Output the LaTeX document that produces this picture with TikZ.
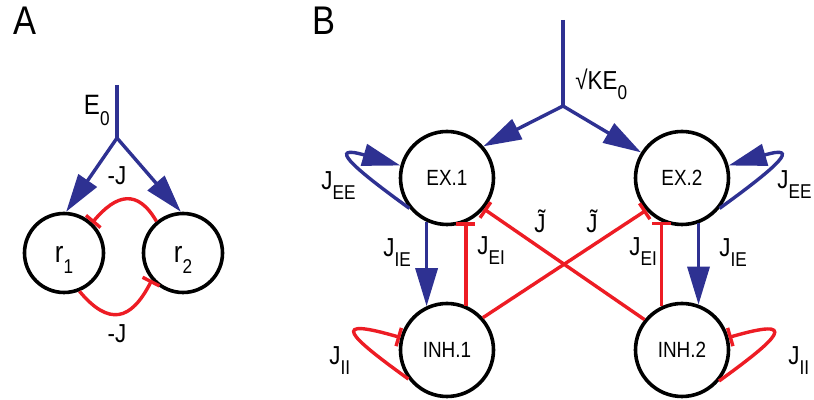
\documentclass[tikz,border=0pt]{standalone}
\usepackage{fontspec}
\setmainfont{Liberation Sans}[FakeStretch=0.86]
\usepackage{tikz}
\usetikzlibrary{arrows.meta}

\definecolor{exblue}{RGB}{46,49,146}
\definecolor{inhred}{RGB}{237,28,36}
% Etiqueta con subindice bajado
\newcommand{\jsub}[2]{#1\raisebox{-0.36em}{\fontsize{10}{11}\selectfont #2}}

\begin{document}
\begin{tikzpicture}[
        x=0.5pt, y=0.5pt,
        font=\fontsize{13}{14}\selectfont,
        unit/.style={draw, circle, line width=1.8pt, minimum size=39.5pt, inner sep=0pt,
            text height=9.5pt, text depth=0pt, font=\fontsize{15}{16}\selectfont},
        pop/.style={draw, circle, line width=1.8pt, minimum size=46.5pt, inner sep=0pt,
            font=\fontsize{11}{12}\selectfont},
        feed/.style={exblue, line width=1.7pt},
        exc/.style={exblue, line width=1.7pt, -{Triangle[length=19pt, width=11pt]}},
        inh/.style={inhred, line width=1.7pt, -{Bar[width=9.5pt, line width=1.7pt]}},
        lbl/.style={inner sep=1pt},
        panel/.style={font=\fontsize{20}{21}\selectfont, anchor=base}
    ]
        \useasboundingbox (0,0) rectangle (814,400);

        % --- Panel A: dos unidades con inhibicion mutua ---
        \node[panel] (labA) at (25,365) {A};
        \node[unit] (r1) at (64,147) {\jsub{r}{1}};
        \node[unit] (r2) at (183,147) {\jsub{r}{2}};

        % Entrada comun
        \coordinate (Atop) at (117,315);
        \coordinate (A0) at (117,262);
        \draw[feed] (Atop) -- (A0);
        \node[lbl, anchor=base east, font=\fontsize{14}{15}\selectfont] (lblE) at (112,285) {\jsub{E}{0}};
        \draw[exc] (A0) -- (r1.87);
        \draw[exc] (A0) -- (r2.93);

        % Acoplamientos inhibitorios
        \draw[inh] (r2.130) to[out=120, in=50, looseness=1.5] (r1.47);
        \draw[inh] (r1.292) to[out=-50, in=-117, looseness=1.6] (r2.221);
        \node[lbl, anchor=base] (lblJa) at (117,215) {-J};
        \node[lbl, anchor=base] (lblJb) at (117,57) {-J};

        % --- Panel B: dos poblaciones E-I ---
        \node[panel] (labB) at (324,365) {B};
        \node[pop] (EX1) at (447,222) {EX.1};
        \node[pop] (EX2) at (682,222) {EX.2};
        \node[pop] (INH1) at (447,50) {INH.1};
        \node[pop] (INH2) at (682,50) {INH.2};

        % Entrada externa
        \coordinate (Btop) at (563,380);
        \coordinate (B0) at (563,294);
        \draw[feed] (Btop) -- (B0);
        \node[lbl, anchor=base west] (lblK) at (573,310) {\textsurd K\jsub{E}{0}};
        \draw[exc] (B0) -- (EX1.41);
        \draw[exc] (B0) -- (EX2.148);

        % Autoacoplamientos
        \draw[exc] (EX1.219) .. controls +(-61,44) and +(-72,21) .. (EX1.165);
        \draw[exc] (EX2.321) .. controls +(61,44) and +(72,21) .. (EX2.15);
        \draw[inh] (INH1.217) .. controls +(-61,44) and +(-72,21) .. (INH1.165);
        \draw[inh] (INH2.320) .. controls +(61,44) and +(72,21) .. (INH2.15);
        \node[lbl, anchor=base west] (lblEE1) at (319,210) {\jsub{J}{EE}};
        \node[lbl, anchor=base east] (lblEE2) at (814,211) {\jsub{J}{EE}};
        \node[lbl, anchor=base west] (lblII1) at (327,35) {\jsub{J}{II}};
        \node[lbl, anchor=base west] (lblII2) at (786,35) {\jsub{J}{II}};

        % Conexiones dentro de cada poblacion
        \draw[exc] (EX1.245) -- (INH1.115);
        \draw[inh] (INH1.67) -- (EX1.293);
        \draw[inh] (INH2.115) -- (EX2.245);
        \draw[exc] (EX2.290) -- (INH2.70);
        \node[lbl, anchor=base west] (lblIE1) at (381,143) {\jsub{J}{IE}};
        \node[lbl, anchor=base west] (lblEI1) at (475,145) {\jsub{J}{EI}};
        \node[lbl, anchor=base west] (lblEI2) at (627,144) {\jsub{J}{EI}};
        \node[lbl, anchor=base west] (lblIE2) at (717,143) {\jsub{J}{IE}};

        % Conexiones cruzadas
        \draw[inh] (INH1.42) -- (EX2.222);
        \draw[inh] (INH2.141) -- (EX1.320);
        \node[lbl, anchor=base] (lblT1) at (540,167) {\~{J}};
        \node[lbl, anchor=base] (lblT2) at (592,167) {\~{J}};
\end{tikzpicture}
\end{document}
